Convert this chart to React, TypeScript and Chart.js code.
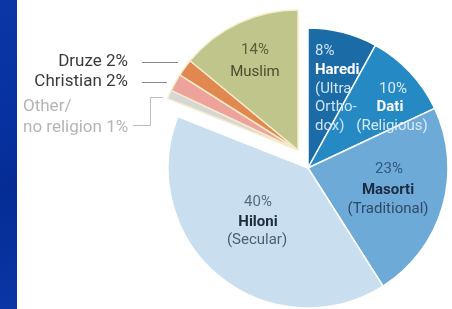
import React, { useEffect, useRef } from "react";
import { Chart, registerables } from "chart.js";

Chart.register(...registerables);

const categories = ["Haredi", "Dati", "Masorti", "Hiloni", "Other/no religion", "Christian", "Druze", "Muslim"];
const shares = [8, 10, 23, 40, 1, 2, 2, 14];
const groups = ["jewish", "jewish", "jewish", "jewish", "other", "other", "other", "other"];
const sliceColors = ["#1b6ba6", "#2589c3", "#6eaad7", "#c9dff0", "#d6d6d6", "#eda39c", "#e0884f", "#bfc58b"];

const FONT = "Roboto, 'Liberation Sans', Arial, sans-serif";

const groupCenters: Record<string, { x: number; y: number }> = {
  jewish: { x: 308, y: 168 },
  other: { x: 298, y: 150 },
};

type Line = { t: string; x: number; y: number; c: string; b?: boolean; a?: CanvasTextAlign; s?: number };

const labelsPlugin = {
  id: "labelsPlugin",
  beforeDatasetsDraw(chart: any) {
    const meta = chart.getDatasetMeta(0);
    meta.data.forEach((arc: any, i: number) => {
      const c = groupCenters[groups[i]];
      arc.x = c.x;
      arc.y = c.y;
    });
  },
  afterDatasetsDraw(chart: any) {
    const ctx: CanvasRenderingContext2D = chart.ctx;
    const v = shares;
    const lines: Line[] = [
      { t: `${v[7]}%`, x: 255, y: 50, c: "#5c5f3c" },
      { t: "Muslim", x: 255, y: 72, c: "#4a4c2e" },
      { t: `${v[0]}%`, x: 315, y: 51, c: "#cfe3f3", a: "left" },
      { t: "Haredi", x: 315, y: 70, c: "#ffffff", b: true, a: "left" },
      { t: "(Ultra", x: 315, y: 89, c: "#cfe3f3", a: "left" },
      { t: "Ortho-", x: 315, y: 107, c: "#cfe3f3", a: "left" },
      { t: "dox)", x: 315, y: 126, c: "#cfe3f3", a: "left" },
      { t: `${v[1]}%`, x: 393, y: 89, c: "#d9eaf7" },
      { t: "Dati", x: 390, y: 107, c: "#ffffff", b: true },
      { t: "(Religious)", x: 392, y: 126, c: "#d9eaf7" },
      { t: `${v[2]}%`, x: 389, y: 169, c: "#34577c" },
      { t: "Masorti", x: 388, y: 190, c: "#1c2b42", b: true },
      { t: "(Traditional)", x: 388, y: 209, c: "#2f4a66" },
      { t: `${v[3]}%`, x: 258, y: 202, c: "#5b6b80" },
      { t: "Hiloni", x: 258, y: 222, c: "#1f2a3a", b: true },
      { t: "(Secular)", x: 257, y: 240, c: "#4f5d70" },
      { t: `Druze ${v[6]}%`, x: 128, y: 62, c: "#3a3a3a", a: "right", s: 17 },
      { t: `Christian ${v[5]}%`, x: 128, y: 82, c: "#3a3a3a", a: "right", s: 17 },
      { t: "Other/", x: 23, y: 107, c: "#b5b5b5", a: "left", s: 17 },
      { t: `no religion ${v[4]}%`, x: 23, y: 128, c: "#b5b5b5", a: "left", s: 17 },
    ];
    ctx.save();
    ctx.textBaseline = "middle";
    for (const l of lines) {
      ctx.font = `${l.b ? "bold " : ""}${l.s || 15}px ${FONT}`;
      ctx.fillStyle = l.c;
      ctx.textAlign = l.a || "center";
      ctx.fillText(l.t, l.x, l.y);
    }
    // leader lines
    ctx.lineWidth = 1;
    ctx.strokeStyle = "#8a8a8a";
    ctx.beginPath();
    ctx.moveTo(142, 62.5);
    ctx.lineTo(178, 62.5);
    ctx.moveTo(142, 82.5);
    ctx.lineTo(167, 82.5);
    ctx.stroke();
    ctx.strokeStyle = "#bdbdbd";
    ctx.beginPath();
    ctx.moveTo(133, 125.5);
    ctx.lineTo(150.5, 125.5);
    ctx.lineTo(150.5, 97.5);
    ctx.lineTo(163, 97.5);
    ctx.stroke();
    ctx.restore();
  },
};

export default function App() {
  const ref = useRef<HTMLCanvasElement | null>(null);
  useEffect(() => {
    document.body.style.margin = "0";
    const chart = new Chart(ref.current!, {
      type: "pie",
      data: {
        labels: categories,
        datasets: [
          {
            data: shares,
            backgroundColor: sliceColors,
            borderColor: ["#ffffff", "#ffffff", "#ffffff", "#ffffff", "#f6ecc9", "#f6ecc9", "#f6ecc9", "#f6ecc9"],
            borderWidth: 1.5,
          },
        ],
      },
      options: {
        responsive: false,
        animation: false,
        radius: 140,
        layout: { padding: 0 },
        plugins: { legend: { display: false }, tooltip: { enabled: false } },
      } as any,
      plugins: [labelsPlugin],
    });
    return () => chart.destroy();
  }, []);
  return (
    <div style={{ position: "relative", width: 452, height: 309, background: "#fff", overflow: "hidden" }}>
      <div
        style={{
          position: "absolute",
          left: 0,
          top: 0,
          width: 17,
          height: 309,
          background: "linear-gradient(170deg, #0a36a6 0%, #0731a0 40%, #042c94 60%, #0a36a6 100%)",
        }}
      />
      <canvas ref={ref} width={452} height={309} style={{ position: "absolute", left: 0, top: 0 }} />
    </div>
  );
}
